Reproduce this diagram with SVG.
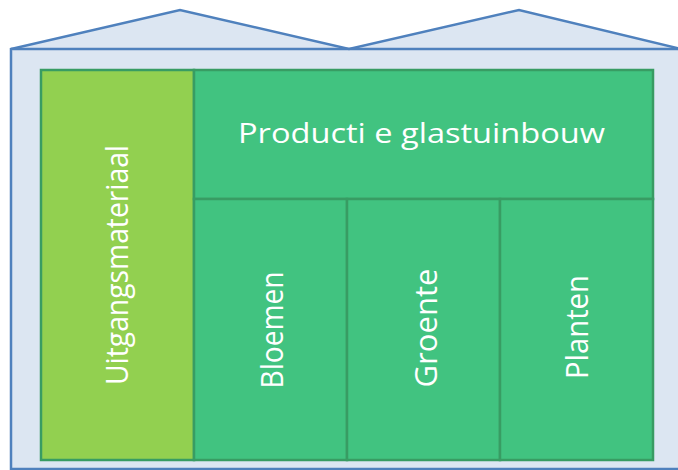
<svg xmlns="http://www.w3.org/2000/svg" width="678" height="470" viewBox="0 0 678 470">
<style>
.house{fill:#dce6f2;stroke:#4f81bd;stroke-width:2.5;stroke-linejoin:miter}
.box{stroke:#389c63;stroke-width:2.5}
.g1{fill:#92d050}
.g2{fill:#41c380}
.t{font-family:"Open Sans","DejaVu Sans",sans-serif;fill:#ffffff;text-anchor:middle}
</style>
<g id="greenhouse">
<path class="house" d="M11,469 L11,49 L180,10 L349,49 L519,10 L681,49 L681,469 Z"/>
<line x1="11" y1="49" x2="681" y2="49" stroke="#4f81bd" stroke-width="2.5"/>
</g>
<g id="uitgangsmateriaal">
<rect class="box g1" x="41" y="70" width="153" height="390"/>
<text class="t" font-size="31" transform="translate(128,265) rotate(-90)" textLength="240" lengthAdjust="spacingAndGlyphs">Uitgangsmateriaal</text>
</g>
<g id="productie">
<rect class="box g2" x="194" y="70" width="459" height="129"/>
<text class="t" font-size="28" x="421.5" y="143" textLength="367" lengthAdjust="spacingAndGlyphs">Producti e glastuinbouw</text>
</g>
<g id="bloemen">
<rect class="box g2" x="194" y="199" width="153" height="261"/>
<text class="t" font-size="31" transform="translate(283,330) rotate(-90)" textLength="117" lengthAdjust="spacingAndGlyphs">Bloemen</text>
</g>
<g id="groente">
<rect class="box g2" x="347" y="199" width="153" height="261"/>
<text class="t" font-size="31" transform="translate(437,328) rotate(-90)" textLength="119" lengthAdjust="spacingAndGlyphs">Groente</text>
</g>
<g id="planten">
<rect class="box g2" x="500" y="199" width="153" height="261"/>
<text class="t" font-size="31" transform="translate(588,327) rotate(-90)" textLength="104" lengthAdjust="spacingAndGlyphs">Planten</text>
</g>
</svg>
